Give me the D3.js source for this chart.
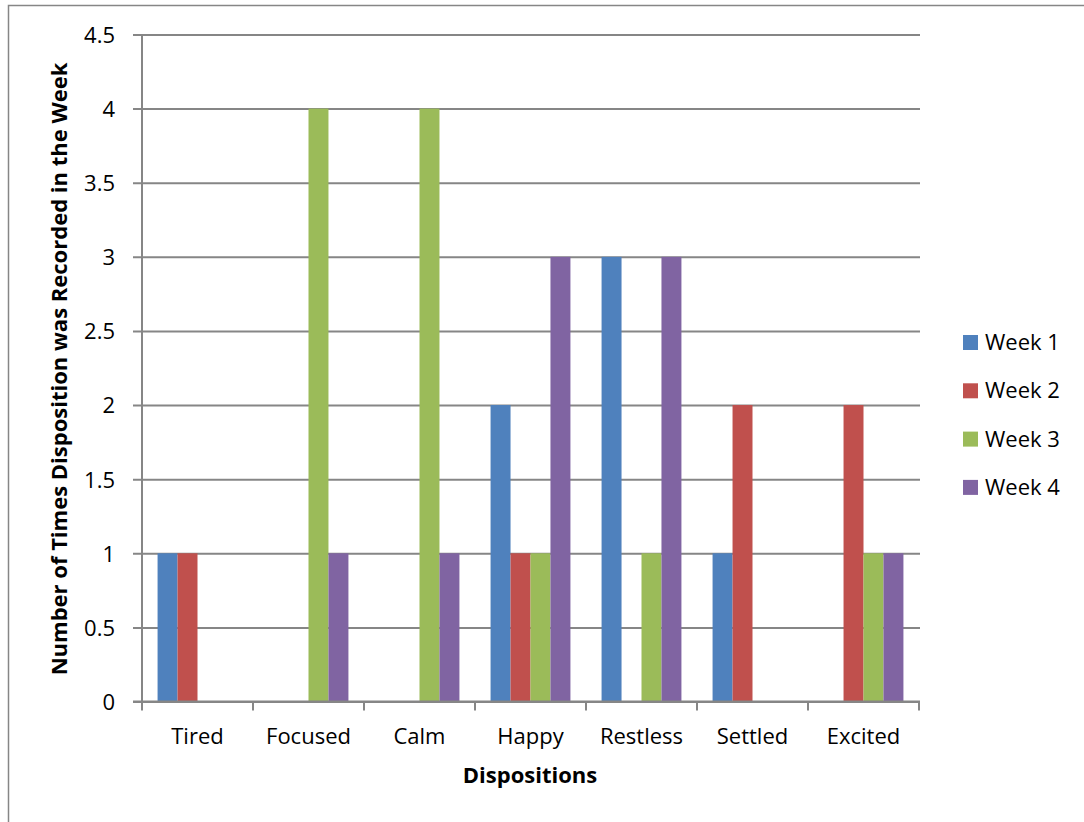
<!DOCTYPE html>
<html><head><meta charset="utf-8">
<script src="https://cdn.jsdelivr.net/npm/d3@7"></script>
<style>body{margin:0;background:#fff}svg{display:block}text{font-family:"Open Sans",sans-serif}</style>
</head><body><svg id="c" width="1084" height="822"></svg>
<script>
const categories = ["Tired","Focused","Calm","Happy","Restless","Settled","Excited"];
const seriesNames = ["Week 1","Week 2","Week 3","Week 4"];
const week1 = [1,0,0,2,3,1,0];
const week2 = [1,0,0,1,0,2,2];
const week3 = [0,4,4,1,1,0,1];
const week4 = [0,1,1,3,3,0,1];
const seriesValues = [week1, week2, week3, week4];
const colors = ["#4F81BD","#C0504D","#9BBB59","#8064A2"];
const yTicks = [0,0.5,1,1.5,2,2.5,3,3.5,4,4.5];

const svg = d3.select("#c");
svg.append("rect").attr("x",8.5).attr("y",5.5).attr("width",1100).attr("height",840)
  .attr("fill","#fff").attr("stroke","#868686").attr("stroke-width",1.5);

const L=142, R=919, T=34.5, B=701.5;
const y = d3.scaleLinear().domain([0,4.5]).range([B,T]);
const x0 = d3.scaleBand().domain(categories).range([L,R]);
const x1 = d3.scaleBand().domain(seriesNames).range([0,x0.bandwidth()]).paddingOuter(0.78);

// gridlines
const yAxis = d3.axisLeft(y).tickValues(yTicks).tickSize(9).tickPadding(18).tickFormat(d=>String(d));
const gy = svg.append("g").attr("transform",`translate(${L},0)`).call(yAxis);
gy.select(".domain").remove();
gy.selectAll(".tick line").attr("stroke","#868686").attr("stroke-width",2).attr("x2",R-L+1).attr("x1",-9);
gy.selectAll(".tick text").attr("font-size",22).attr("fill","#000").attr("dy","0.36em");

// bars
seriesValues.forEach((vals,si)=>{
  svg.append("g").selectAll("rect").data(vals).join("rect")
    .attr("x",(d,i)=>x0(categories[i])+x1(seriesNames[si]))
    .attr("width",x1.bandwidth())
    .attr("y",d=>y(d)).attr("height",d=>y(0)-y(d))
    .attr("fill",colors[si]);
});

// y axis line
svg.append("line").attr("x1",L).attr("x2",L).attr("y1",T).attr("y2",B).attr("stroke","#868686").attr("stroke-width",2);
// x axis
svg.append("line").attr("x1",L-9).attr("x2",R+1).attr("y1",B).attr("y2",B).attr("stroke","#868686").attr("stroke-width",2);
const bounds = categories.map(c=>x0(c)).concat([R]);
svg.append("g").selectAll("line").data(bounds).join("line")
  .attr("x1",d=>d).attr("x2",d=>d).attr("y1",B).attr("y2",B+9).attr("stroke","#868686").attr("stroke-width",2);
svg.append("g").selectAll("text").data(categories).join("text")
  .attr("x",d=>x0(d)+x0.bandwidth()/2).attr("y",744).attr("text-anchor","middle")
  .attr("font-size",22).attr("fill","#000").text(d=>d);

// axis titles
svg.append("text").attr("x",530).attr("y",783).attr("text-anchor","middle")
  .attr("font-size",22).attr("font-weight","bold").text("Dispositions");
svg.append("text").attr("transform","translate(67,369) rotate(-90)").attr("text-anchor","middle")
  .attr("font-size",22).attr("font-weight","bold").text("Number of Times Disposition was Recorded in the Week");

// legend
const lg = svg.append("g").selectAll("g").data(seriesNames).join("g")
  .attr("transform",(d,i)=>`translate(963,${335+i*48.3})`);
lg.append("rect").attr("width",15).attr("height",15).attr("fill",(d,i)=>colors[i]);
lg.append("text").attr("x",22).attr("y",15).attr("font-size",22).attr("fill","#000").text(d=>d);
</script></body></html>
